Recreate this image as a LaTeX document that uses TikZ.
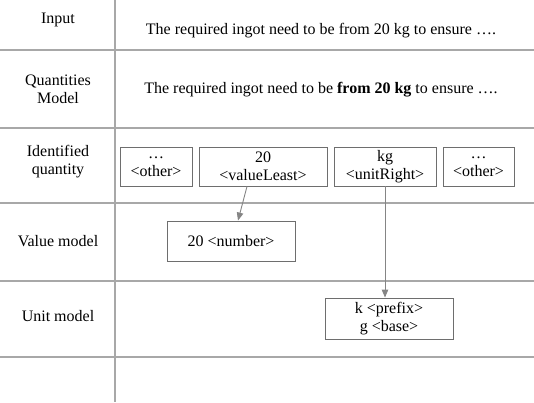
\documentclass[tikz,border=0pt]{standalone}
\usepackage{fontspec}
\setmainfont{Liberation Serif}
\usetikzlibrary{arrows.meta}
\definecolor{gridgray}{HTML}{A8A8A8}
\definecolor{boxgray}{HTML}{6E6E6E}
\definecolor{arrgray}{HTML}{858585}
\begin{document}
\begin{tikzpicture}[x=1pt,y=-1pt,
  every node/.style={font=\fontsize{16}{18}\selectfont, inner sep=0pt, align=center},
  gridline/.style={draw=gridgray, line width=1.4pt},
  qbox/.style={draw=boxgray, line width=0.9pt, minimum height=39pt},
  flow/.style={draw=arrgray, line width=0.9pt, -{Triangle[length=8pt,width=6.5pt]}}]
\useasboundingbox (0,0) rectangle (534,402);
% grid
\draw[gridline] (115,0) -- (115,402);
\foreach \y in {50,128,203,281,357} \draw[gridline] (0,\y) -- (534,\y);
% row labels
\node (lin) at (58,20) {Input};
\node (lqm) at (58,89) {Quantities\\Model};
\node (liq) at (58,162) {Identified\\quantity};
\node (lvm) at (58,241) {Value model};
\node (lum) at (58,316) {Unit model};
% sentences
\node (s1) at (321,31) {The required ingot need to be from 20 kg to ensure \dots.};
\node (s2) at (321,90) {The required ingot need to be \textbf{from 20 kg} to ensure \dots.};
% boxes
\node[qbox, minimum width=72pt] (b1) at (156,166.5) {\dots\\<other>};
\node[qbox, minimum width=128pt] (b2) at (263,166.5) {20\\<valueLeast>};
\node[qbox, minimum width=102pt] (b3) at (385,166.5) {kg\\<unitRight>};
\node[qbox, minimum width=71pt] (b4) at (478.5,166.5) {\dots\\<other>};
\node[qbox, minimum width=128pt, minimum height=40pt] (b5) at (231,241) {20 <number>};
\node[qbox, minimum width=128pt, minimum height=41pt] (b6) at (389,318.5) {k <prefix>\\g <base>};
% arrows
\draw[flow] ([xshift=-16pt]b2.south) -- ([xshift=7pt]b5.north);
\draw[flow] (b3.south) -- (b3.south |- b6.north);
\end{tikzpicture}
\end{document}
